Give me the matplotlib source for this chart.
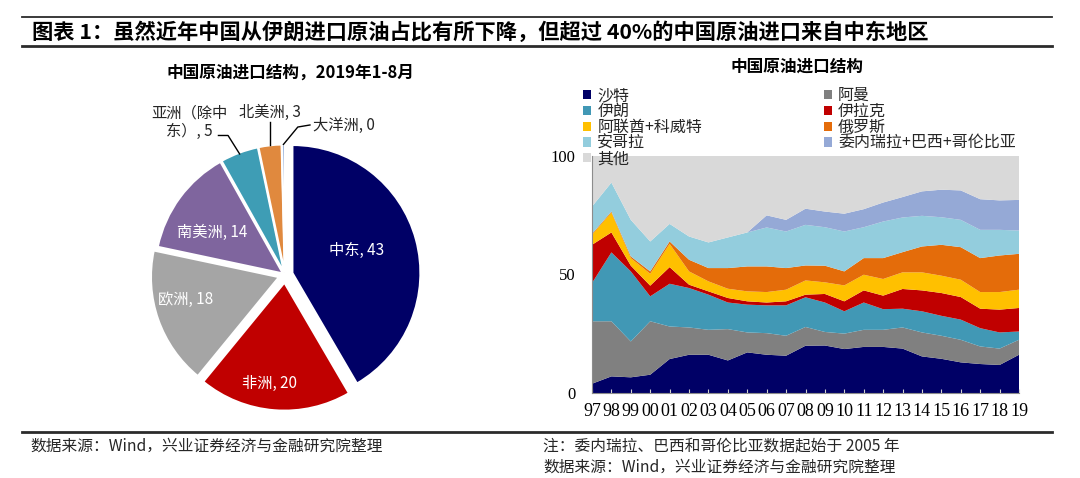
import numpy as np
import matplotlib
matplotlib.use("Agg")
import matplotlib.pyplot as plt
from matplotlib.patches import Patch
from matplotlib.lines import Line2D

plt.rcParams['font.family'] = ['Noto Sans CJK SC', 'DejaVu Sans']

# ---- 饼图数据：2019年1-8月 ----
regions = ['中东', '非洲', '欧洲', '南美洲', '亚洲（除中东）', '北美洲', '大洋洲']
shares = [43, 20, 18, 14, 5, 3, 0.4]
pie_colors = ['#000066', '#C00000', '#A5A5A5', '#7F659E', '#3E9DB5', '#E0893E', '#9DB5DC']

# ---- 堆积面积图数据 (%) ----
years = ['97', '98', '99', '00', '01', '02', '03', '04', '05', '06', '07', '08',
         '09', '10', '11', '12', '13', '14', '15', '16', '17', '18', '19']
saudi = [3.9, 7.0, 6.6, 7.7, 14.3, 16.1, 16.1, 13.7, 17.1, 16.1, 15.7, 19.9,
         20.0, 18.5, 19.4, 19.4, 18.7, 15.4, 14.4, 12.9, 12.2, 11.8, 16.1]
oman = [26.3, 23.2, 15.1, 22.5, 13.7, 11.5, 10.5, 13.2, 8.4, 9.1, 8.4, 7.9,
        5.7, 6.5, 7.2, 7.2, 8.9, 10.1, 9.7, 9.5, 7.4, 6.9, 6.3]
iran = [16.1, 29.0, 29.5, 10.5, 18.0, 16.6, 14.8, 11.2, 11.7, 11.7, 12.8, 12.5,
        12.4, 9.4, 11.5, 8.7, 7.9, 8.9, 8.4, 8.5, 7.7, 6.8, 3.5]
iraq = [16.1, 8.4, 2.4, 4.5, 7.0, 1.4, 1.4, 1.9, 1.4, 1.2, 1.7, 1.1,
        3.6, 4.2, 5.1, 5.7, 8.3, 8.8, 9.6, 9.5, 8.2, 9.6, 9.9]
uae_kuwait = [4.2, 8.4, 3.2, 5.0, 9.8, 5.6, 4.2, 3.9, 4.2, 4.4, 4.9, 6.0,
              4.9, 6.7, 6.6, 7.0, 7.0, 7.6, 7.3, 7.3, 7.0, 7.4, 7.7]
russia = [0.4, 0.4, 0.7, 1.0, 1.0, 4.9, 5.6, 8.7, 10.5, 10.8, 9.1, 6.3,
          7.0, 5.9, 7.0, 8.8, 8.5, 10.9, 13.0, 13.7, 14.3, 15.4, 15.1]
angola = [11.5, 12.2, 15.4, 12.6, 7.4, 9.8, 10.8, 12.9, 14.3, 16.4, 15.4, 17.1,
          16.2, 16.8, 13.0, 15.4, 14.6, 12.9, 11.6, 11.5, 11.9, 10.8, 9.8]
ven_bra_col = [0, 0, 0, 0, 0, 0, 0, 0, 0, 5.1, 4.9, 6.8,
               6.6, 7.5, 7.6, 8.0, 8.6, 10.3, 11.6, 12.4, 12.9, 12.4, 12.9]
others = [21.5, 11.4, 27.1, 36.2, 28.8, 34.1, 36.6, 34.5, 32.4, 25.2, 27.1, 22.4,
          23.6, 24.5, 22.6, 19.8, 17.5, 15.1, 14.4, 14.7, 18.4, 18.9, 18.7]

series_names = ['沙特', '阿曼', '伊朗', '伊拉克', '阿联酋+科威特', '俄罗斯',
                '安哥拉', '委内瑞拉+巴西+哥伦比亚', '其他']
series = [saudi, oman, iran, iraq, uae_kuwait, russia, angola, ven_bra_col, others]
area_colors = ['#000066', '#808080', '#4198B5', '#C00000', '#FFC000', '#E46C0A',
               '#93CDDD', '#95A9D6', '#D9D9D9']

W, H = 1080, 478
fig = plt.figure(figsize=(W / 100, H / 100), dpi=100)

# 顶部标题与分隔线
fig.add_artist(Line2D([22 / W, 1052 / W], [1 - 17 / H] * 2, color='#2b2b2b', lw=1.3))
fig.add_artist(Line2D([22 / W, 1052 / W], [1 - 46 / H] * 2, color='#2b2b2b', lw=2))
fig.text(32 / W, 1 - 32 / H, '图表 1：虽然近年中国从伊朗进口原油占比有所下降，但超过 40%的中国原油进口来自中东地区',
         fontsize=15.3, fontweight='bold', va='center', ha='left', color='black')

# ---- 左侧饼图 ----
R = 128.0
cx, cy = 285, 275
side = 2.6 * R
ax_pie = fig.add_axes([(cx - side / 2) / W, (H - cy - side / 2) / H, side / W, side / H])
explode = [0.06, 0.06, 0.05, 0.02, 0.02, 0.02, 0.02]
wedges, _ = ax_pie.pie(shares, colors=pie_colors, startangle=90, counterclock=False,
                       explode=explode, wedgeprops=dict(edgecolor='white', linewidth=1.5))
ax_pie.set_xlim(-1.3, 1.3)
ax_pie.set_ylim(-1.3, 1.3)
ax_pie.set_aspect('equal')
ax_pie.axis('off')

labels = ['%s, %d' % (n, round(v)) for n, v in zip(regions, shares)]
labels[4] = labels[4].replace('除中东', '除中\n东')

inside_pos = [(0.56, 0.195), (-0.12, -0.845), (-0.78, -0.195), (-0.57, 0.335)]
for lab, (px, py) in zip(labels[:4], inside_pos):
    ax_pie.text(px, py, lab, color='white', fontsize=11, ha='center', va='center')


def edge_point(w, r=1.0):
    ang = np.deg2rad((w.theta1 + w.theta2) / 2)
    return w.center[0] + r * np.cos(ang), w.center[1] + r * np.sin(ang)


# 亚洲（除中东）
ex, ey = edge_point(wedges[4], 0.99)
ax_pie.text(-0.75, 1.195, labels[4], fontsize=11, ha='center', va='center',
            multialignment='center', color='#262626', linespacing=1.1)
ax_pie.plot([-0.52, -0.445, ex], [1.09, 1.09, ey], color='black', lw=1)
# 北美洲
ex, ey = edge_point(wedges[5], 1.0)
ax_pie.text(-0.117, 1.273, labels[5], fontsize=11, ha='center', va='center', color='#262626')
ax_pie.plot([ex, ex], [1.195, ey], color='black', lw=1)
# 大洋洲
ex, ey = edge_point(wedges[6], 1.0)
ax_pie.text(0.22, 1.172, labels[6], fontsize=11, ha='left', va='center', color='#262626')
ax_pie.plot([0.195, 0.10, ex], [1.172, 1.156, ey], color='black', lw=1)

fig.text(290 / W, 1 - 73 / H, '中国原油进口结构，2019年1-8月', fontsize=12,
         fontweight='bold', ha='center', va='center')

# ---- 右侧堆积面积图 ----
ax = fig.add_axes([592 / W, 85 / H, 427 / W, 237.5 / H])
x = np.arange(len(years))
ax.stackplot(x, *series, colors=area_colors, linewidth=0)
ax.set_xlim(0, len(years) - 1)
ax.set_ylim(0, 100)
ax.set_xticks(x)
ax.set_xticklabels(years, family=['Liberation Serif'], fontsize=13)
ax.set_yticks([0, 50, 100])
ax.set_yticklabels(['0', '50', '100'], family=['Liberation Serif'], fontsize=12)
ax.tick_params(axis='x', direction='in', length=3, color='#d0d0d0', pad=7)
ax.tick_params(axis='y', length=0, pad=12)
for s in ['top', 'right']:
    ax.spines[s].set_visible(False)
for s in ['left', 'bottom']:
    ax.spines[s].set_color('#8c8c8c')
    ax.spines[s].set_linewidth(0.8)

fig.text(797 / W, 1 - 67 / H, '中国原油进口结构', fontsize=12, fontweight='bold',
         ha='center', va='center')

handles = [Patch(facecolor=c, edgecolor='none') for c in area_colors]
order = [0, 2, 4, 6, 8, 1, 3, 5, 7]
fig.legend([handles[i] for i in order], [series_names[i] for i in order],
           ncol=2, loc='upper left', bbox_to_anchor=(583 / W, 1 - 87 / H),
           frameon=False, fontsize=11.5, handlelength=0.5, handleheight=0.5,
           handletextpad=0.4, labelspacing=-0.07, columnspacing=7.6,
           borderpad=0, borderaxespad=0, labelcolor='#262626')

# ---- 底部来源 ----
fig.add_artist(Line2D([22 / W, 1052 / W], [1 - 432 / H] * 2, color='#2b2b2b', lw=2))
fig.text(30 / W, 1 - 446 / H, '数据来源：Wind，兴业证券经济与金融研究院整理',
         fontsize=11.3, ha='left', va='center', color='#262626')
fig.text(543 / W, 1 - 446 / H, '注：委内瑞拉、巴西和哥伦比亚数据起始于 2005 年',
         fontsize=11.3, ha='left', va='center', color='#262626')
fig.text(543 / W, 1 - 467 / H, '数据来源：Wind，兴业证券经济与金融研究院整理',
         fontsize=11.3, ha='left', va='center', color='#262626')

fig.savefig('out.png', dpi=100)
